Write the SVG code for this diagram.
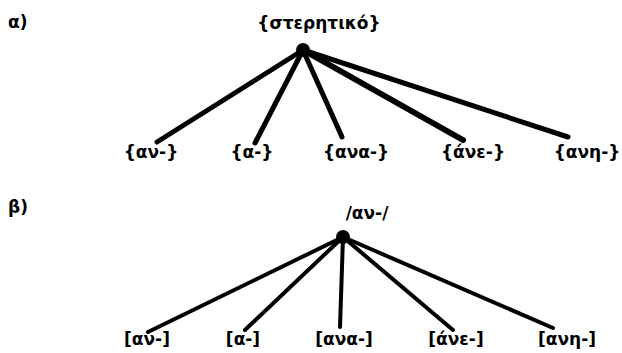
<svg xmlns="http://www.w3.org/2000/svg" width="622" height="353" viewBox="0 0 622 353">
<style>
.t{font-family:"DejaVu Sans","Noto Sans",sans-serif;font-weight:bold;font-size:17px;fill:#000;text-anchor:middle}
.l{font-family:"DejaVu Sans","Noto Sans",sans-serif;font-weight:bold;font-size:17px;fill:#000}
.e{stroke:#000;stroke-linecap:round;fill:none}
.a{stroke-width:5}
.b{stroke-width:4}
</style>
<rect width="622" height="353" fill="#fff"/>
<text class="l" x="8" y="28">α)</text>
<text class="l" x="8" y="213">β)</text>
<g id="connectors">
<line class="e a" x1="303" y1="50" x2="157" y2="142"/>
<line class="e a" x1="303" y1="50" x2="255" y2="143"/>
<line class="e a" x1="303" y1="50" x2="342" y2="137"/>
<line class="e a" x1="303" y1="50" x2="463" y2="140" style="stroke-width:6"/>
<line class="e a" x1="303" y1="50" x2="568" y2="137"/>
<line class="e b" x1="343" y1="237" x2="148" y2="332"/>
<line class="e b" x1="343" y1="237" x2="245" y2="330"/>
<line class="e b" x1="343" y1="237" x2="340" y2="327"/>
<line class="e b" x1="343" y1="237" x2="453" y2="330"/>
<line class="e b" x1="343" y1="237" x2="553" y2="328"/>
</g>
<g id="root-a"><circle cx="303" cy="50" r="7"/><text class="t" x="319" y="29">{στερητικό}</text></g>
<g id="a1"><text class="t" x="151" y="158">{αν-}</text></g>
<g id="a2"><text class="t" x="252" y="158">{α-}</text></g>
<g id="a3"><text class="t" x="356" y="158">{ανα-}</text></g>
<g id="a4"><text class="t" x="473" y="158">{άνε-}</text></g>
<g id="a5"><text class="t" x="587" y="158">{ανη-}</text></g>
<g id="root-b"><circle cx="343" cy="237" r="7"/><text class="t" x="367" y="219">/αν-/</text></g>
<g id="b1"><text class="t" x="147" y="345">[αν-]</text></g>
<g id="b2"><text class="t" x="243" y="345">[α-]</text></g>
<g id="b3"><text class="t" x="344" y="345">[ανα-]</text></g>
<g id="b4"><text class="t" x="456" y="345">[άνε-]</text></g>
<g id="b5"><text class="t" x="567" y="345">[ανη-]</text></g>
</svg>
